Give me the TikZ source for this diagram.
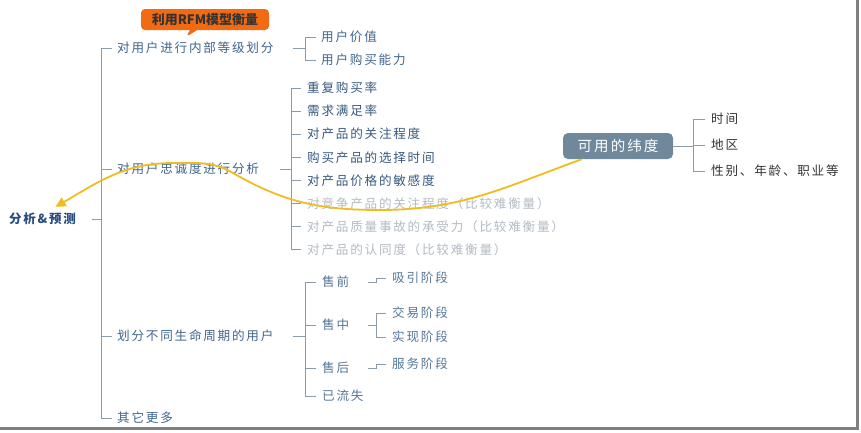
\documentclass[tikz,border=0pt]{standalone}
\usepackage{fontspec}
\setmainfont[LetterSpace=14]{Noto Sans CJK SC}
\newfontfamily\calloutfont{Noto Sans CJK SC}
\usetikzlibrary{shapes.callouts,arrows.meta}
\definecolor{lineg}{HTML}{8C9BAA}
\definecolor{topicc}{HTML}{40658E}
\definecolor{itemc}{HTML}{37597F}
\definecolor{faintc}{HTML}{B3BBC3}
\definecolor{stagec}{HTML}{557797}
\definecolor{rootc}{HTML}{2B4C7E}
\definecolor{dimc}{HTML}{6F889B}
\definecolor{rfmc}{HTML}{F26B13}
\definecolor{curvec}{HTML}{F2BC1C}
\tikzset{
  txt/.style={anchor=west,inner sep=1pt,font=\fontsize{12.6}{14}\selectfont},
  topic/.style={txt,text=topicc},
  item/.style={txt,text=itemc},
  faint/.style={txt,text=faintc},
  stage/.style={txt,text=stagec},
  dimtxt/.style={txt,text=black!80},
  branch/.style={lineg,line width=0.9pt},
  dimbox/.style={fill=dimc,text=white,rounded corners=5pt,minimum width=110pt,
    minimum height=26pt,inner sep=2pt,font=\fontsize{14.5}{16}\selectfont},
  yarrow/.style={curvec,line width=1.8pt,-{Triangle[length=10pt,width=10pt]}}
}
\begin{document}
\begin{tikzpicture}[x=1pt,y=1pt]
\useasboundingbox (0,0) rectangle (861,-432);
\fill[white] (0,0) rectangle (861,-432);
\draw[line width=3pt,black!50] (857,0) -- (857,-428) -- (0,-428);

\node[txt,text=rootc,font=\bfseries\fontsize{12.5}{14}\selectfont] (root) at (8,-219) {分析\&预测};

\node[topic] (a1) at (116,-48) {对用户进行内部等级划分};
\node[topic] (a2) at (116,-169) {对用户忠诚度进行分析};
\node[topic] (a3) at (116,-336) {划分不同生命周期的用户};
\node[topic] (a4) at (116,-418) {其它更多};

\coordinate (t0) at (101,-219);
\draw[branch] ([xshift=15pt]root.east) -- (t0);
\draw[branch] (t0 |- a1.west) -- (t0 |- a4.west);
\foreach \n in {a1,a2,a3,a4}
  \draw[branch] (t0 |- \n.west) -- ([xshift=-4pt]\n.west);

\node[rectangle callout,fill=rfmc,rounded corners=4pt,callout absolute pointer={(186,-37)},
  minimum width=128pt,minimum height=21pt,text=black!80,
  font=\calloutfont\bfseries\fontsize{13}{15}\selectfont] (rfm) at (205,-19.5) {利用RFM模型衡量};

% group 1
\node[topic] (b1) at (320,-37) {用户价值};
\node[topic] (b2) at (320,-60) {用户购买能力};
\coordinate (t1) at (305,-48);
\draw[branch] ([xshift=18pt]a1.east) -- (t1);
\draw[branch] (t1 |- b1.west) -- (t1 |- b2.west);
\foreach \n in {b1,b2}
  \draw[branch] (t1 |- \n.west) -- ([xshift=-4pt]\n.west);

% group 2
\foreach \t [count=\i] in {重复购买率,需求满足率,对产品的关注程度,购买产品的选择时间,对产品价格的敏感度}
  \node[item] (c\i) at (306,{-88-23.1*(\i-1)}) {\t};
\foreach \t [count=\i from 6] in {对竞争产品的关注程度（比较难衡量）,对产品质量事故的承受力（比较难衡量）,对产品的认同度（比较难衡量）}
  \node[faint] (c\i) at (306,{-88-23.1*(\i-1)}) {\t};
\coordinate (t2) at (291,-169);
\draw[branch] ([xshift=20pt]a2.east) -- (t2);
\draw[branch] (t2 |- c1.west) -- (t2 |- c8.west);
\foreach \i in {1,...,8}
  \draw[branch] (t2 |- c\i.west) -- ([xshift=-5pt]c\i.west);

% group 3
\node[stage] (d1) at (321,-282) {售前};
\node[stage] (d2) at (321,-325) {售中};
\node[stage] (d3) at (321,-368) {售后};
\node[stage] (d4) at (321,-396) {已流失};
\coordinate (t3) at (305,-336);
\draw[branch] ([xshift=18pt]a3.east) -- (t3);
\draw[branch] (t3 |- d1.west) -- (t3 |- d4.west);
\foreach \n in {d1,d2,d3,d4}
  \draw[branch] (t3 |- \n.west) -- ([xshift=-5pt]\n.west);

\node[stage] (e1) at (391,-278) {吸引阶段};
\node[stage] (e2) at (391,-313) {交易阶段};
\node[stage] (e3) at (391,-337) {实现阶段};
\node[stage] (e4) at (391,-364) {服务阶段};
\draw[branch] ([xshift=18pt]d1.east) -- ++(8,0) |- ([xshift=-5pt]e1.west);
\draw[branch] ([xshift=18pt]d3.east) -- ++(8,0) |- ([xshift=-5pt]e4.west);
\draw[branch] ([xshift=18pt]d2.east) -- ++(8,0) coordinate (t4);
\draw[branch] (t4 |- e2.west) -- (t4 |- e3.west);
\foreach \n in {e2,e3}
  \draw[branch] (t4 |- \n.west) -- ([xshift=-5pt]\n.west);

% dimensions
\node[dimbox] (dim) at (618,-146) {可用的纬度};
\node[dimtxt] (f1) at (710,-119) {时间};
\node[dimtxt] (f2) at (710,-145) {地区};
\node[dimtxt] (f3) at (710,-171) {性别、年龄、职业等};
\coordinate (t5) at (693,-146);
\draw[branch] (dim.east) -- (t5);
\draw[branch] (t5 |- f1.west) -- (t5 |- f3.west);
\foreach \n in {f1,f2,f3}
  \draw[branch] (t5 |- \n.west) -- ([xshift=-5pt]\n.west);

\coordinate (k1) at (380,-210);
\coordinate (k2) at (233,-173);
\coordinate (k3) at (173,-163);
\draw[yarrow] (dim.-160) to[out=-160,in=0] (k1) to[out=180,in=-30] (k2)
  to[out=150,in=0] (k3) to[out=180,in=30] ([xshift=13pt,yshift=5pt]root.north);
\end{tikzpicture}
\end{document}
